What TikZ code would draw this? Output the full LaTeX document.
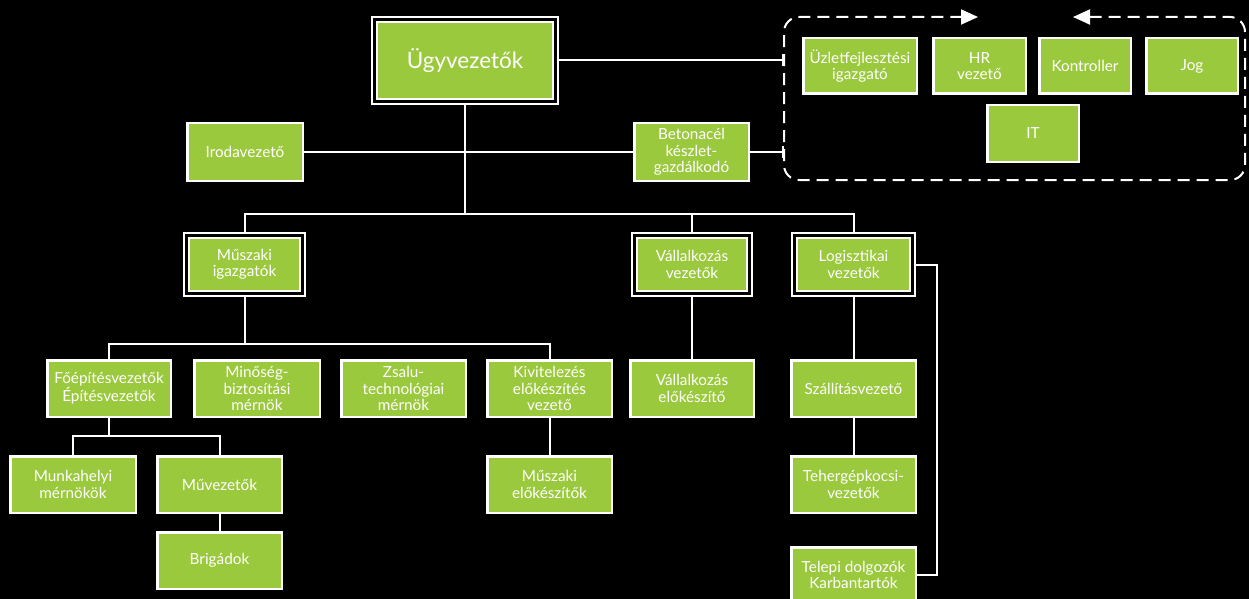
\documentclass[tikz,border=0pt]{standalone}
\usepackage{fontspec}
\setmainfont{Lato}
\usetikzlibrary{arrows.meta}
\definecolor{boxgreen}{RGB}{155,201,62}
\begin{document}
\begin{tikzpicture}[x=1pt,y=-1pt,
  box/.style={draw=white, line width=2.5pt, fill=boxgreen, text=white, align=center,
    inner sep=0pt, font=\fontsize{15.3}{16.5}\selectfont},
  dbox/.style={box, double=black, double distance=2.5pt, line width=2.2pt},
  conn/.style={draw=white, line width=2pt},
  dashbox/.style={draw=white, line width=2pt, dash pattern=on 12pt off 7pt, rounded corners=15pt},
]
\fill[black] (0,0) rectangle (1249,599);
\useasboundingbox (0,0) rectangle (1249,599);

% top
\node[dbox, minimum width=181.1pt, minimum height=82.1pt, font=\fontsize{22.5}{24}\selectfont] (ugy) at (465,60.5) {Ügyvezetők};
\node[box, minimum width=115.5pt, minimum height=57.5pt] (iroda) at (245,152) {Irodavezető};
\node[box, minimum width=114.5pt, minimum height=57.5pt] (beton) at (691.5,152) {Betonacél\\készlet-\\gazdálkodó};

% staff group
\node[box, minimum width=113.5pt, minimum height=55.5pt] (uzlet) at (860,66) {Üzletfejlesztési\\igazgató};
\node[box, minimum width=92.5pt, minimum height=55.5pt] (hr) at (979.5,66) {HR\\vezető};
\node[box, minimum width=91.5pt, minimum height=55.5pt] (kontr) at (1085,66) {Kontroller};
\node[box, minimum width=91.5pt, minimum height=55.5pt] (jog) at (1192,66) {Jog};
\node[box, minimum width=91.5pt, minimum height=56.5pt] (it) at (1033,133.5) {IT};

\coordinate (cl) at (784,0);
\draw[dashbox, {Triangle[length=17pt,width=15pt]}-{Triangle[length=17pt,width=15pt]}]
  (1073,17) -- (1245,17) -- (1245,180) -- (784,180) -- (784,17) -- (978,17);

% second level
\node[dbox, minimum width=116.1pt, minimum height=58.1pt] (musz) at (244.5,264.5) {Műszaki\\igazgatók};
\node[dbox, minimum width=115.1pt, minimum height=58.1pt] (vall) at (692,264.5) {Vállalkozás\\vezetők};
\node[dbox, minimum width=118.1pt, minimum height=58.1pt] (logi) at (853.5,264.5) {Logisztikai\\vezetők};

% third level
\node[box, minimum width=123.5pt, minimum height=56.5pt] (foep) at (109,388.5) {Főépítésvezetők\\Építésvezetők};
\node[box, minimum width=125.5pt, minimum height=56.5pt] (minos) at (257,388.5) {Minőség-\\biztosítási\\mérnök};
\node[box, minimum width=124.5pt, minimum height=56.5pt] (zsalu) at (403.5,388.5) {Zsalu-\\technológiai\\mérnök};
\node[box, minimum width=124.5pt, minimum height=56.5pt] (kivit) at (549.5,388.5) {Kivitelezés\\előkészítés\\vezető};
\node[box, minimum width=123.5pt, minimum height=56.5pt] (vallelo) at (692,388.5) {Vállalkozás\\előkészítő};
\node[box, minimum width=124.5pt, minimum height=56.5pt] (szall) at (853.5,388.5) {Szállításvezető};

% fourth level
\node[box, minimum width=125.5pt, minimum height=56.5pt] (munka) at (73,484.5) {Munkahelyi\\mérnökök};
\node[box, minimum width=124.5pt, minimum height=56.5pt] (muvez) at (219.5,484.5) {Művezetők};
\node[box, minimum width=124.5pt, minimum height=56.5pt] (brig) at (219.5,560.5) {Brigádok};
\node[box, minimum width=124.5pt, minimum height=56.5pt] (muszelo) at (549.5,484.5) {Műszaki\\előkészítők};
\node[box, minimum width=124.5pt, minimum height=56.5pt] (teher) at (853.5,484.5) {Tehergépkocsi-\\vezetők};
\node[box, minimum width=124.5pt, minimum height=55.5pt] (telepi) at (853.5,575) {Telepi dolgozók\\Karbantartók};

% connectors
\coordinate (b1) at (0,214);
\coordinate (b2) at (0,344);
\coordinate (b3) at (0,436);
\coordinate (rt) at (937,0);

\draw[conn, -{Bar[width=12pt]}] (ugy.east) -- (ugy.east -| cl);
\draw[conn] (iroda.east) -- (beton.west);
\draw[conn, -{Bar[width=12pt]}] (beton.east) -- (beton.east -| cl);
\draw[conn] (ugy.south) -- (ugy.south |- b1);
\draw[conn] (musz.north) |- (logi.north |- b1) -- (logi.north);
\draw[conn] (vall.north) -- (vall.north |- b1);

\draw[conn] (musz.south) -- (musz.south |- b2);
\draw[conn] (foep.north) |- (kivit.north |- b2) -- (kivit.north);
\draw[conn] (vall.south) -- (vallelo.north);
\draw[conn] (logi.south) -- (szall.north);
\draw[conn] (szall.south) -- (teher.north);
\draw[conn] (logi.east) -- (logi.east -| rt) |- (telepi.east);

\draw[conn] (foep.south) -- (foep.south |- b3);
\draw[conn] (munka.north) |- (muvez.north |- b3) -- (muvez.north);
\draw[conn] (muvez.south) -- (brig.north);
\draw[conn] (kivit.south) -- (muszelo.north);
\end{tikzpicture}
\end{document}
